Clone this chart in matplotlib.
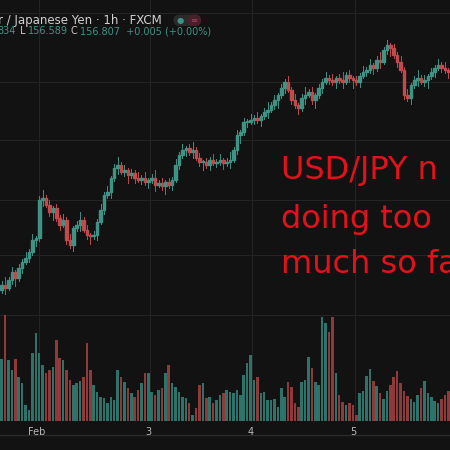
import matplotlib.pyplot as plt
from matplotlib.patches import Rectangle, FancyBboxPatch

# close positions, price units
closes = [154.45, 154.42, 154.50, 154.58, 154.52, 154.62, 154.68, 154.72, 154.78, 154.90, 154.92,
          155.30, 155.32, 155.25, 155.18, 155.22, 155.12, 155.05, 155.10, 154.90, 154.85, 155.02,
          155.05, 155.10, 155.00, 154.95, 154.94, 154.95, 155.08, 155.20, 155.35, 155.38, 155.52,
          155.62, 155.65, 155.58, 155.60, 155.55, 155.57, 155.52, 155.50, 155.52, 155.48, 155.50,
          155.52, 155.45, 155.47, 155.44, 155.48, 155.45, 155.50, 155.65, 155.75, 155.80, 155.82,
          155.78, 155.80, 155.72, 155.68, 155.68, 155.65, 155.70, 155.67, 155.68, 155.70, 155.67,
          155.68, 155.70, 155.80, 155.95, 155.98, 156.08, 156.08, 156.10, 156.12, 156.10, 156.14,
          156.18, 156.20, 156.25, 156.30, 156.35, 156.42, 156.48, 156.40, 156.30, 156.25, 156.22,
          156.32, 156.35, 156.38, 156.30, 156.35, 156.42, 156.48, 156.52, 156.50, 156.48, 156.52,
          156.50, 156.48, 156.55, 156.52, 156.50, 156.48, 156.54, 156.58, 156.60, 156.65, 156.62,
          156.70, 156.68, 156.80, 156.85, 156.82, 156.75, 156.68, 156.60, 156.35, 156.32, 156.45,
          156.50, 156.52, 156.48, 156.50, 156.54, 156.58, 156.62, 156.65, 156.62, 156.60, 156.58]
opens = [154.40] + closes[:-1]
wicks = [0.03, 0.06, 0.02, 0.04, 0.08, 0.03, 0.05, 0.02, 0.04, 0.03, 0.06]
volumes = [62, 106, 61, 51, 62, 44, 38, 16, 11, 68, 88, 68, 56, 48, 51, 54, 81, 63, 61, 51,
           41, 36, 38, 40, 44, 78, 51, 36, 29, 24, 23, 18, 24, 21, 51, 44, 39, 33, 28, 24,
           31, 38, 48, 48, 29, 26, 31, 33, 48, 56, 38, 34, 29, 24, 23, 18, 6, 13, 36, 38,
           23, 24, 18, 21, 26, 28, 31, 29, 28, 31, 26, 46, 58, 66, 41, 44, 28, 29, 21, 21,
           22, 14, 33, 24, 39, 34, 18, 14, 39, 41, 64, 53, 39, 36, 104, 98, 89, 104, 48, 26,
           19, 16, 18, 16, 6, 28, 30, 45, 52, 40, 35, 28, 22, 30, 36, 44, 50, 38, 30, 25,
           22, 19, 26, 33, 40, 28, 24, 20, 18, 22, 26, 30]
day_ticks = [10.9, 43.5, 73.5, 103.5]
day_labels = ["Feb", "3", "4", "5"]

bg = "#121212"
up, down = "#3f9384", "#c2494c"
vup, vdown = "#2e7369", "#8e3a3b"

fig = plt.figure(figsize=(4.5, 4.5), dpi=100, facecolor=bg)
ax = fig.add_axes([0, 0.064, 1, 0.936], facecolor=bg)
ax.set_xlim(-0.5, len(closes) - 0.5)
ax.set_ylim(153.09, 157.3)
for s in ax.spines.values():
    s.set_visible(False)
ax.set_xticks(day_ticks)
ax.set_yticks([157.17, 156.48, 155.9, 155.3, 154.75, 154.15])
ax.grid(True, color="#242424", lw=0.8)
ax.tick_params(length=0, labelleft=False, labelbottom=False)

vax = ax.twinx()
vax.set_ylim(0, 421)
vax.axis("off")

for i, (o, c) in enumerate(zip(opens, closes)):
    col = up if c >= o else down
    w = wicks[i % len(wicks)]
    ax.plot([i, i], [min(o, c) - w, max(o, c) + wicks[(i + 3) % len(wicks)]], color=col, lw=0.7, zorder=3)
    ax.add_patch(Rectangle((i - 0.38, min(o, c)), 0.76, max(abs(c - o), 0.015), color=col, zorder=3))
    vax.bar(i, volumes[i], width=0.75, color=vup if c >= o else vdown, zorder=2)

for x, lab in zip(day_ticks, day_labels):
    fig.text(x / len(closes), 0.04, lab, color="#b8b8b8", fontsize=7, ha="center", va="center")
fig.add_artist(plt.Line2D([0, 1], [0.033, 0.033], color="#2a2a2a", lw=1))

fig.text(-0.005, 0.955, "r / Japanese Yen · 1h · FXCM", color="#d0d0d0", fontsize=8.5, va="center")
fig.add_artist(FancyBboxPatch((0.387, 0.944), 0.058, 0.022, boxstyle="round,pad=0,rounding_size=0.011",
                              transform=fig.transFigure, color="#2a2a2a"))
fig.add_artist(FancyBboxPatch((0.418, 0.944), 0.027, 0.022, boxstyle="round,pad=0,rounding_size=0.011",
                              transform=fig.transFigure, color="#4a1f2c"))
fig.text(0.401, 0.955, "●", color="#3f9384", fontsize=6, ha="center", va="center")
fig.text(0.431, 0.955, "≡", color="#b03a5a", fontsize=6, ha="center", va="center")
fig.text(-0.005, 0.93, "834", color="#3f9384", fontsize=7, va="center")
fig.text(0.045, 0.93, "L", color="#c8c8c8", fontsize=7, va="center")
fig.text(0.063, 0.93, "156.589", color="#3f9384", fontsize=7, va="center")
fig.text(0.157, 0.93, "C", color="#c8c8c8", fontsize=7, va="center")
fig.text(0.177, 0.93, "156.807  +0.005 (+0.00%)", color="#3f9384", fontsize=7, va="center")

for y, t in [(0.62, "USD/JPY n"), (0.512, "doing too"), (0.412, "much so fa")]:
    fig.text(0.625, y, t, color="#e2111b", fontsize=23, va="center")

fig.savefig("out.png", dpi=100, facecolor=bg)
